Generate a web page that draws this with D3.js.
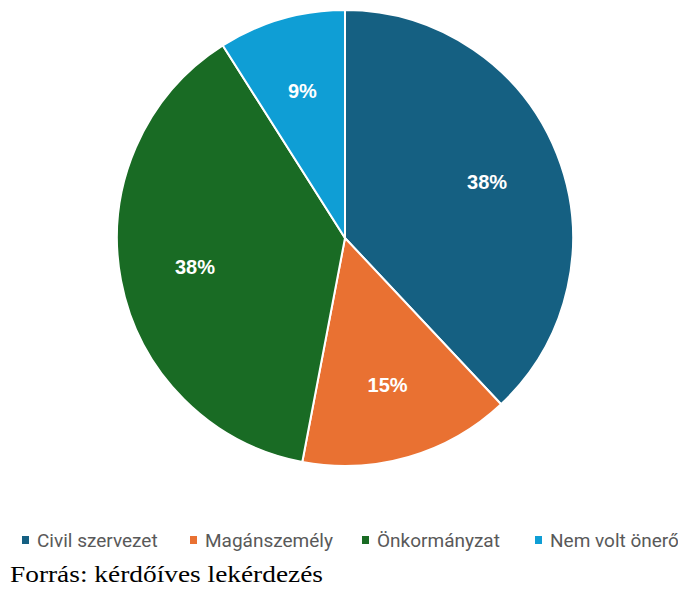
<!DOCTYPE html>
<meta charset="utf-8">
<style>
body { margin: 0; background: #fff; }
.label {
  font: bold 20px "Liberation Sans", Arial, sans-serif;
  fill: #fff;
  text-anchor: middle;
}
.legend text {
  font: 19px "Liberation Sans Narrow", "Roboto", sans-serif;
  fill: #595959;
}
.source {
  font: 23px "Liberation Serif", "Times New Roman", serif;
  fill: #000;
}
</style>
<svg width="678" height="590"></svg>
<script src="https://cdn.jsdelivr.net/npm/d3@7"></script>
<script>

var categories = ["Civil szervezet", "Magánszemély", "Önkormányzat", "Nem volt önerő"];
var values = [38, 15, 38, 9];
var colors = ["#156082", "#e97132", "#196b24", "#0f9ed5"];

var svg = d3.select("svg"),
    cx = 345, cy = 238, radius = 228;

var data = categories.map(function(c, i) { return {name: c, value: values[i]}; });

var pie = d3.pie()
    .sort(null)
    .value(function(d) { return d.value; });

var arc = d3.arc().innerRadius(0).outerRadius(radius);
var labelArc = d3.arc().innerRadius(radius * 0.67).outerRadius(radius * 0.67);

var color = d3.scaleOrdinal().domain(categories).range(colors);

var g = svg.append("g").attr("transform", "translate(" + cx + "," + cy + ")");

var slice = g.selectAll(".slice")
  .data(pie(data))
  .enter().append("g")
    .attr("class", "slice");

slice.append("path")
    .attr("d", arc)
    .attr("fill", function(d) { return color(d.data.name); })
    .attr("stroke", "#fff")
    .attr("stroke-width", 2);

slice.append("text")
    .attr("class", "label")
    .attr("transform", function(d) { return "translate(" + labelArc.centroid(d) + ")"; })
    .attr("dy", "0.35em")
    .text(function(d) { return d.data.value + "%"; });

// legend
var legendX = [22, 190, 362, 535];
var legend = svg.append("g").attr("class", "legend")
  .selectAll("g")
  .data(categories)
  .enter().append("g")
    .attr("transform", function(d, i) { return "translate(" + legendX[i] + ",536)"; });

legend.append("rect")
    .attr("width", 7)
    .attr("height", 8)
    .attr("fill", function(d) { return color(d); });

legend.append("text")
    .attr("x", 15)
    .attr("y", 11)
    .text(function(d) { return d; });

svg.append("text")
    .attr("class", "source")
    .attr("x", 10)
    .attr("y", 582)
    .attr("textLength", 313)
    .attr("lengthAdjust", "spacingAndGlyphs")
    .text("Forrás: kérdőíves lekérdezés");

</script>
